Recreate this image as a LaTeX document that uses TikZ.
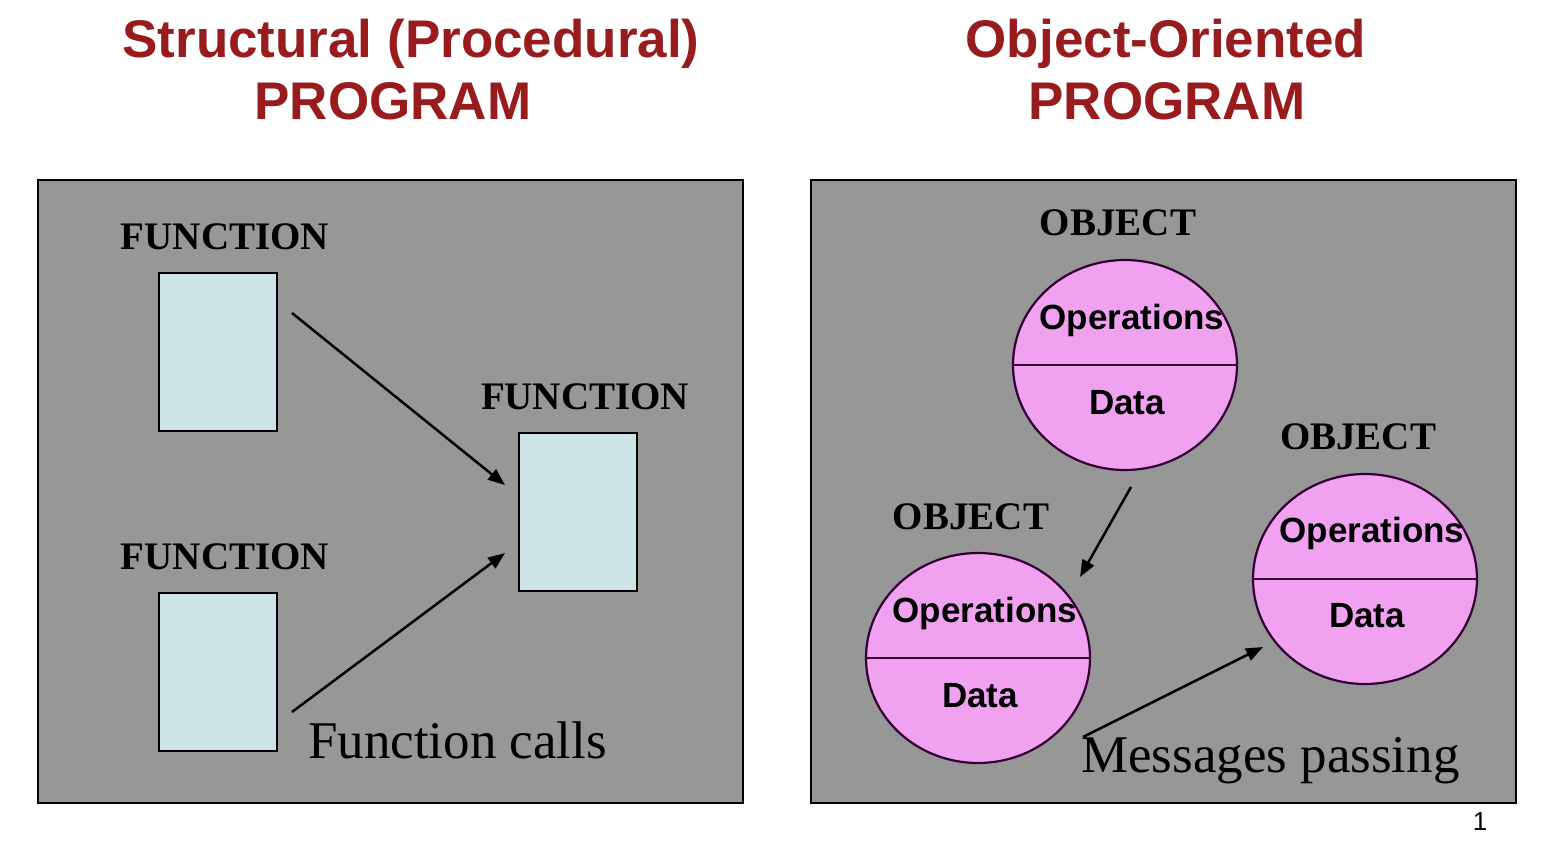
\documentclass[tikz,border=0pt]{standalone}
\usepackage{fontspec}
\setmainfont{Liberation Serif}
\newfontfamily\arialf{Liberation Sans}
\usetikzlibrary{shapes.geometric,arrows.meta}
\definecolor{panelgray}{RGB}{151,151,151}
\definecolor{boxblue}{RGB}{204,228,230}
\definecolor{objpink}{RGB}{240,162,240}
\definecolor{titlered}{RGB}{152,28,30}
\definecolor{objedge}{RGB}{50,0,50}
\tikzset{
  panel/.style={draw=black, fill=panelgray, line width=2.4pt},
  funcbox/.style={draw=black, fill=boxblue, line width=2.2pt, minimum width=118pt, minimum height=158pt, inner sep=0pt},
  objell/.style={ellipse, draw=objedge, fill=objpink, line width=2.2pt, minimum width=224pt, minimum height=210pt, inner sep=0pt},
  titletxt/.style={font=\arialf\bfseries\fontsize{53}{60}\selectfont, text=titlered, inner sep=0pt, anchor=base},
  lbltxt/.style={font=\bfseries\fontsize{39}{44}\selectfont, inner sep=0pt, anchor=base},
  optxt/.style={font=\arialf\bfseries\fontsize{35}{40}\selectfont, inner sep=0pt, anchor=base},
  captxt/.style={font=\fontsize{53}{60}\selectfont, inner sep=0pt, anchor=base west},
  conn/.style={line width=2.5pt, -{Triangle[length=17pt,width=13pt]}}
}
\begin{document}
\begin{tikzpicture}[x=1pt,y=-1pt]
\useasboundingbox (0,0) rectangle (1554,846);
% titles
\node[titletxt] (t1a) at (411,57) {Structural (Procedural)};
\node[titletxt] (t1b) at (393,119) {PROGRAM};
\node[titletxt] (t2a) at (1166,57) {Object-Oriented};
\node[titletxt] (t2b) at (1167,119) {PROGRAM};
% panels
\draw[panel] (38,180) rectangle (743,803);
\draw[panel] (811,180) rectangle (1516,803);
% left panel
\node[lbltxt] (fl1) at (225,249) {FUNCTION};
\node[lbltxt] (fl2) at (585,409) {FUNCTION};
\node[lbltxt] (fl3) at (225,569) {FUNCTION};
\node[funcbox] (b1) at (218,352) {};
\node[funcbox] (b2) at (218,672) {};
\node[funcbox] (b3) at (578,512) {};
\coordinate (a1s) at (292,313);
\coordinate (a1e) at (505,485);
\coordinate (a2s) at (292,712);
\coordinate (a2e) at (505,553);
\draw[conn] (a1s) -- (a1e);
\draw[conn] (a2s) -- (a2e);
\node[captxt] (fc) at (308,758) {Function calls};
% right panel
\node[lbltxt] (ol1) at (1118,235) {OBJECT};
\node[lbltxt] (ol2) at (971,529) {OBJECT};
\node[lbltxt] (ol3) at (1358,449) {OBJECT};
\node[objell] (o1) at (1125,365) {};
\node[objell] (o2) at (978,658) {};
\node[objell] (o3) at (1365,579) {};
\draw[objedge, line width=2.2pt] (o1.west) -- (o1.east);
\draw[objedge, line width=2.2pt] (o2.west) -- (o2.east);
\draw[objedge, line width=2.2pt] (o3.west) -- (o3.east);
\node[optxt] (op1) at (1132,329) {Operations};
\node[optxt] (d1) at (1127,414) {Data};
\node[optxt] (op2) at (985,622) {Operations};
\node[optxt] (d2) at (980,707) {Data};
\node[optxt] (op3) at (1372,542) {Operations};
\node[optxt] (d3) at (1367,627) {Data};
\coordinate (m1s) at (1131,487);
\coordinate (m1e) at (1080,577);
\coordinate (m2s) at (1083,737);
\coordinate (m2e) at (1263,647);
\draw[conn] (m1s) -- (m1e);
\draw[conn] (m2s) -- (m2e);
\node[captxt] (mp) at (1081,772) {Messages passing};
\node[font=\arialf\fontsize{26}{30}\selectfont, inner sep=0pt, anchor=base] (pg) at (1480,830) {1};
\end{tikzpicture}
\end{document}
